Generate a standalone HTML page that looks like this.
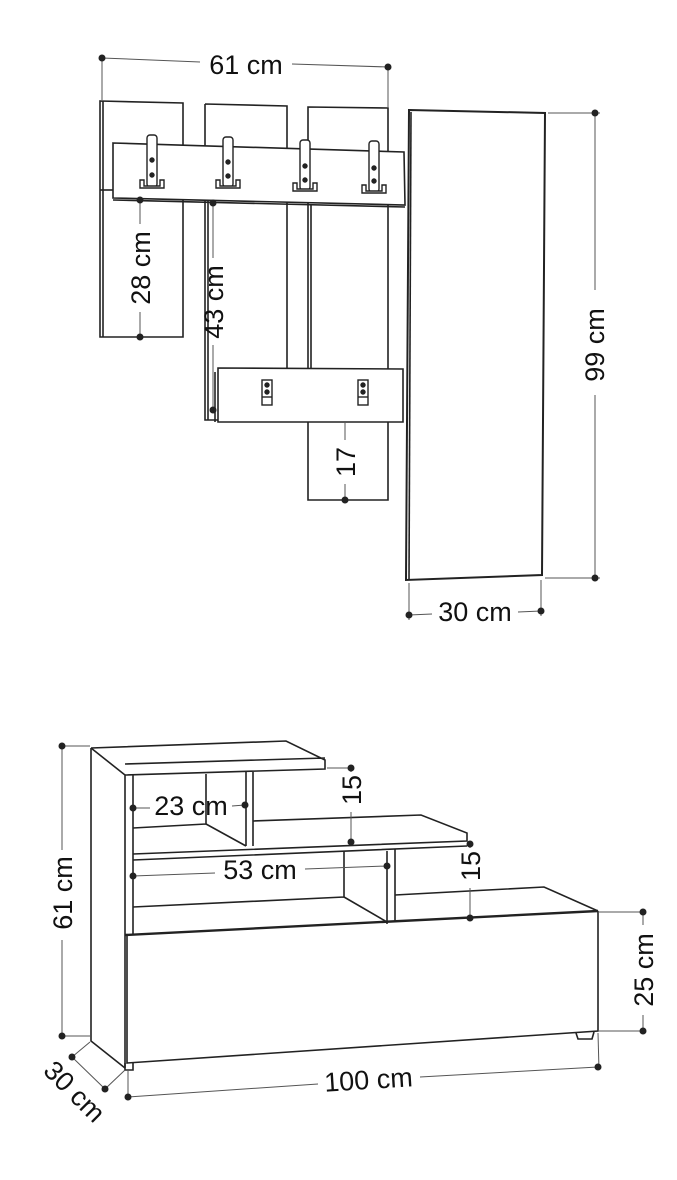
<!DOCTYPE html>
<html><head><meta charset="utf-8"><style>
html,body{margin:0;padding:0;background:#fff;}
svg{display:block;}
text{font-family:"Liberation Sans",sans-serif;font-size:27px;fill:#111;}
</style></head><body>
<svg width="677" height="1180" viewBox="0 0 677 1180" xmlns="http://www.w3.org/2000/svg">
<g fill="none" stroke="#222" stroke-width="1.6">
<path d="M100,101 L183,103 L183,337 L100,337 Z"/>
<line x1="103" y1="101" x2="103" y2="337"/>
<path d="M205,104 L287,106 L287,368 M205,104 L205,420 L218,420"/>
<line x1="208" y1="200" x2="208" y2="420"/>
<path d="M308,107 L388,108 L388,500 L308,500 Z"/>
<line x1="311" y1="205" x2="311" y2="368"/>
<path d="M113,143 L404,152 L405,205 L113,198 Z" fill="#fff"/>
<line x1="113" y1="200" x2="405" y2="207"/>
<path d="M100,190 L113,190"/>
<path d="M218,368 L403,369 L403,422 L218,422 Z" fill="#fff"/>
<line x1="215" y1="372" x2="215" y2="422"/>
<path d="M409,110 L545,113 L542,575 L406,580 Z" stroke-width="2"/>
<line x1="411" y1="112" x2="409" y2="579"/>
</g>
<g fill="#fff" stroke="#222" stroke-width="1.4">
<g transform="translate(152,0)"><rect x="-5" y="135" width="10" height="52" rx="3"/><path d="M-12,188 L-12,180 L-8,180 L-8,186 L8,186 L8,180 L12,180 L12,188 Z"/><circle cx="0" cy="160" r="2" fill="#222"/><circle cx="0" cy="175" r="2" fill="#222"/></g>
<g transform="translate(228,0)"><rect x="-5" y="137" width="10" height="50" rx="3"/><path d="M-12,188 L-12,180 L-8,180 L-8,186 L8,186 L8,180 L12,180 L12,188 Z"/><circle cx="0" cy="162" r="2" fill="#222"/><circle cx="0" cy="176" r="2" fill="#222"/></g>
<g transform="translate(305,0)"><rect x="-5" y="140" width="10" height="50" rx="3"/><path d="M-12,191 L-12,183 L-8,183 L-8,189 L8,189 L8,183 L12,183 L12,191 Z"/><circle cx="0" cy="166" r="2" fill="#222"/><circle cx="0" cy="180" r="2" fill="#222"/></g>
<g transform="translate(374,0)"><rect x="-5" y="141" width="10" height="51" rx="3"/><path d="M-12,193 L-12,185 L-8,185 L-8,191 L8,191 L8,185 L12,185 L12,193 Z"/><circle cx="0" cy="168" r="2" fill="#222"/><circle cx="0" cy="181" r="2" fill="#222"/></g>
<g transform="translate(267,0)"><rect x="-5" y="380" width="10" height="25"/><line x1="-5" y1="397" x2="5" y2="397"/><circle cx="0" cy="385" r="2" fill="#222"/><circle cx="0" cy="392" r="2" fill="#222"/></g>
<g transform="translate(363,0)"><rect x="-5" y="380" width="10" height="25"/><line x1="-5" y1="397" x2="5" y2="397"/><circle cx="0" cy="385" r="2" fill="#222"/><circle cx="0" cy="392" r="2" fill="#222"/></g>
</g>
<g stroke="#555" stroke-width="1" fill="none">
<line x1="102" y1="58" x2="200" y2="62"/><line x1="292" y1="64" x2="388" y2="67"/>
<line x1="102" y1="58" x2="102" y2="100"/><line x1="388" y1="67" x2="388" y2="107"/>
<line x1="548" y1="113" x2="600" y2="113"/><line x1="545" y1="578" x2="600" y2="578"/>
<line x1="595" y1="113" x2="595" y2="290"/><line x1="595" y1="395" x2="595" y2="578"/>
<line x1="409" y1="583" x2="409" y2="620"/><line x1="541" y1="580" x2="541" y2="616"/>
<line x1="409" y1="615" x2="432" y2="614"/><line x1="518" y1="612" x2="541" y2="611"/>
<line x1="140" y1="200" x2="140" y2="224"/><line x1="140" y1="312" x2="140" y2="337"/>
<line x1="213" y1="203" x2="213" y2="258"/><line x1="213" y1="345" x2="213" y2="410"/>
<line x1="345" y1="423" x2="345" y2="440"/><line x1="345" y1="484" x2="345" y2="500"/>
</g>
<g fill="#222">
<circle cx="102" cy="58" r="3.5"/><circle cx="388" cy="67" r="3.5"/>
<circle cx="595" cy="113" r="3.5"/><circle cx="595" cy="578" r="3.5"/>
<circle cx="409" cy="615" r="3.5"/><circle cx="541" cy="611" r="3.5"/>
<circle cx="140" cy="200" r="3.5"/><circle cx="140" cy="337" r="3.5"/>
<circle cx="213" cy="203" r="3.5"/><circle cx="213" cy="410" r="3.5"/>
<circle cx="345" cy="500" r="3.5"/>
</g>
<text x="246" y="74" text-anchor="middle">61 cm</text>
<text x="475" y="621" text-anchor="middle">30 cm</text>
<text transform="translate(604,345) rotate(-90)" text-anchor="middle">99 cm</text>
<text transform="translate(150,268) rotate(-90)" text-anchor="middle">28 cm</text>
<text transform="translate(223,302) rotate(-90)" text-anchor="middle">43 cm</text>
<text transform="translate(355,462) rotate(-90)" text-anchor="middle">17</text>

<g fill="none" stroke="#222" stroke-width="1.6">
<path d="M91,748 L91,1041 L125,1068"/>
<path d="M91,748 L125,775 L125,1068"/>
<path d="M91,748 L286,741 L325,760 L325,769 L125,775 M125,764 L325,758"/>
<line x1="133" y1="775" x2="133" y2="935"/>
<path d="M206,774 L206,824 L246,846 M133,828 L206,824"/>
<path d="M246,772 L246,846 M253,772 L253,846"/>
<path d="M253,821 L421,815 L467,833 L467,841 L133,854 M133,860 L467,846"/>
<path d="M344,851 L344,897 L387,922 M133,907 L344,897"/>
<path d="M387,851 L387,924 M395,849 L395,922"/>
<path d="M395,895 L544,887 L598,911"/>
<path d="M125,935 L598,911" stroke-width="2.4"/>
<path d="M127,935 L127,1063 L598,1031 L598,911"/>
<path d="M125,1063 L125,1070 L133,1070 L133,1063"/>
<path d="M576,1033 L578,1039 L592,1039 L594,1032"/>
</g>
<g stroke="#555" stroke-width="1" fill="none">
<line x1="62" y1="746" x2="90" y2="746"/><line x1="62" y1="1036" x2="90" y2="1036"/>
<line x1="62" y1="746" x2="62" y2="850"/><line x1="62" y1="940" x2="62" y2="1036"/>
<line x1="327" y1="768" x2="351" y2="768"/><line x1="351" y1="768" x2="351" y2="772"/><line x1="351" y1="812" x2="351" y2="842"/>
<line x1="470" y1="844" x2="470" y2="848"/><line x1="470" y1="888" x2="470" y2="918"/>
<line x1="598" y1="912" x2="643" y2="912"/><line x1="598" y1="1031" x2="643" y2="1031"/>
<line x1="643" y1="912" x2="643" y2="925"/><line x1="643" y1="1015" x2="643" y2="1031"/>
<line x1="133" y1="808" x2="150" y2="808"/><line x1="232" y1="806" x2="245" y2="805"/>
<line x1="133" y1="876" x2="215" y2="873"/><line x1="305" y1="869" x2="387" y2="866"/>
<line x1="128" y1="1070" x2="128" y2="1100"/><line x1="598" y1="1033" x2="599" y2="1070"/>
<line x1="128" y1="1097" x2="318" y2="1084"/><line x1="420" y1="1077" x2="598" y2="1067"/>
<line x1="90" y1="1042" x2="72" y2="1057"/><line x1="125" y1="1070" x2="105" y2="1089"/>
<line x1="72" y1="1057" x2="105" y2="1089"/>
</g>
<g fill="#222">
<circle cx="62" cy="746" r="3.5"/><circle cx="62" cy="1036" r="3.5"/>
<circle cx="351" cy="768" r="3.5"/><circle cx="351" cy="842" r="3.5"/>
<circle cx="470" cy="844" r="3.5"/><circle cx="470" cy="918" r="3.5"/>
<circle cx="643" cy="912" r="3.5"/><circle cx="643" cy="1031" r="3.5"/>
<circle cx="133" cy="808" r="3.5"/><circle cx="245" cy="805" r="3.5"/>
<circle cx="133" cy="876" r="3.5"/><circle cx="387" cy="866" r="3.5"/>
<circle cx="128" cy="1097" r="3.5"/><circle cx="598" cy="1067" r="3.5"/>
<circle cx="72" cy="1057" r="3.5"/><circle cx="105" cy="1089" r="3.5"/>
</g>
<text x="191" y="815" text-anchor="middle">23 cm</text>
<text x="260" y="879" text-anchor="middle">53 cm</text>
<text transform="translate(361,790) rotate(-90)" text-anchor="middle">15</text>
<text transform="translate(480,866) rotate(-90)" text-anchor="middle">15</text>
<text transform="translate(653,970) rotate(-90)" text-anchor="middle">25 cm</text>
<text transform="translate(72,893) rotate(-90)" text-anchor="middle">61 cm</text>
<text transform="translate(369,1089) rotate(-3.6)" text-anchor="middle">100 cm</text>
<text transform="translate(68,1098) rotate(45)" text-anchor="middle">30 cm</text>
</svg>
</body></html>
